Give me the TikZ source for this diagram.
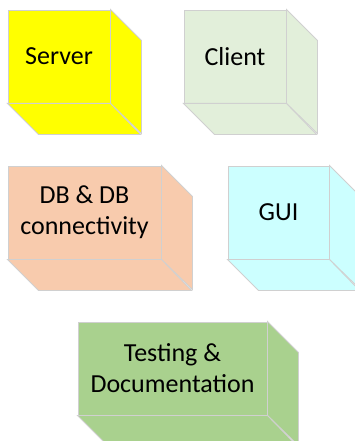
\documentclass[tikz,border=0pt]{standalone}
\usepackage{fontspec}
\setmainfont{Carlito}
\definecolor{edgegray}{HTML}{D0D0D0}
\definecolor{cServer}{HTML}{FFFF00}
\definecolor{cClient}{HTML}{E2EFDA}
\definecolor{cDB}{HTML}{F8CBAD}
\definecolor{cGUI}{HTML}{CCFFFF}
\definecolor{cTest}{HTML}{A9D18E}
\tikzset{
  front/.style={draw=edgegray, line width=0.9pt, fill=#1, inner sep=0pt, align=center,
    font=\fontsize{26}{31}\selectfont, text=black},
  face/.style={draw=edgegray, line width=0.9pt, fill=#1, line join=miter},
}
\newcommand{\boxcube}[7]{% name, x0, y0, x1, y1, colour, text
  \node[front=#6, minimum width={(#4-#2)*1pt}, minimum height={(#5-#3)*1pt}]
     (#1) at ({(#2+#4)/2*1pt},{-(#3+#5)/2*1pt}) {#7};
  \draw[face=#6] (#1.north east) -- ++(31pt,-31pt) -- ++(0,{-(#5-#3)*1pt}) -- (#1.south east) -- cycle;
  \draw[face=#6] (#1.south west) -- ++(31pt,-31pt) -- ++({(#4-#2)*1pt},0) -- (#1.south east) -- cycle;
}
\begin{document}
\begin{tikzpicture}
\clip (0,0) rectangle (355pt,-441pt);
\fill[white] (0,0) rectangle (355pt,-441pt);
\boxcube{server}{8}{10}{110}{103}{cServer}{Server}
\boxcube{client}{184}{10}{286}{103}{cClient}{Client}
\boxcube{db}{8}{166}{161}{259}{cDB}{DB \& DB\\connectivity}
\boxcube{gui}{228}{166}{329}{259}{cGUI}{GUI}
\boxcube{test}{78}{322}{267}{415}{cTest}{Testing \&\\Documentation}
\end{tikzpicture}
\end{document}
